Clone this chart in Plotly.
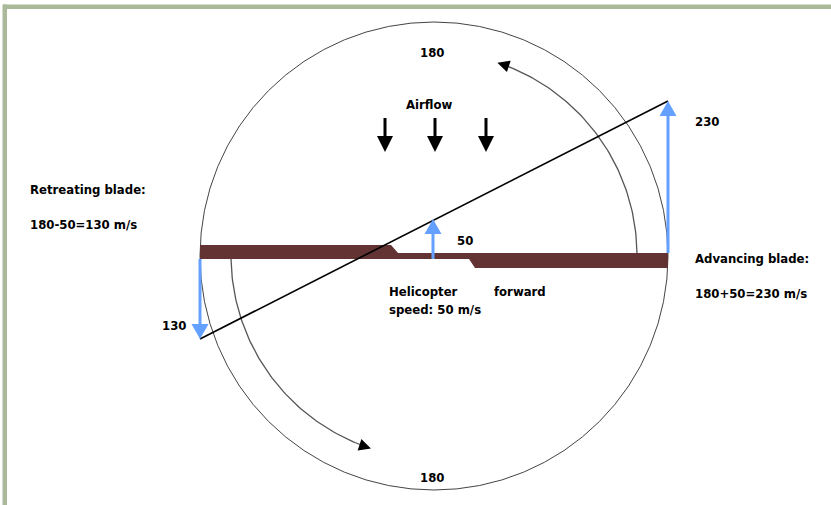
import numpy as np
import plotly.graph_objects as go

# --- speeds (m/s) ---
rotor_speed = 180
forward_speed = 50
advancing_speed = rotor_speed + forward_speed
retreating_speed = rotor_speed - forward_speed

W, H = 831, 505
CX, CY, R = 434, 255.5, 234
BLUE = '#64a0ff'
BLADE = '#633333'
FONT = 'DejaVu Sans Condensed, Liberation Sans Narrow, Liberation Sans, sans-serif'

fig = go.Figure()
shapes = []


def tri(tip, direction, length=14, half=8, color='black'):
    d = np.array(direction, dtype=float)
    d /= np.linalg.norm(d)
    n = np.array([-d[1], d[0]])
    tip = np.array(tip, dtype=float)
    base = tip - d * length
    p1, p2 = base + n * half, base - n * half
    return dict(type='path', line=dict(width=0), fillcolor=color,
                path=f'M{tip[0]},{tip[1]} L{p1[0]},{p1[1]} L{p2[0]},{p2[1]} Z')


def arrow(x0, y0, x1, y1, color, width=3, length=15, half=8.5):
    d = np.array([x1 - x0, y1 - y0], dtype=float)
    d /= np.linalg.norm(d)
    ex, ey = x1 - d[0] * (length - 2), y1 - d[1] * (length - 2)
    shapes.append(dict(type='line', x0=x0, y0=y0, x1=ex, y1=ey,
                       line=dict(color=color, width=width)))
    shapes.append(tri((x1, y1), d, length, half, color))


# frame
shapes.append(dict(type='rect', x0=3, x1=W + 5, y0=4.5, y1=9, fillcolor='#a9b99a', line=dict(width=0)))
shapes.append(dict(type='rect', x0=2.5, x1=7, y0=4.5, y1=H + 5, fillcolor='#a9b99a', line=dict(width=0)))

# rotor disc
shapes.append(dict(type='circle', x0=CX - R, x1=CX + R, y0=CY - R + 0.5, y1=CY + R + 0.5,
                   line=dict(color='#444444', width=1)))

# rotation arcs (inner circle r=203)
r_in = 203
for a0, a1 in [(0.7, 70.0), (181.0, 249.0)]:
    th = np.radians(np.linspace(a0, a1, 80))
    fig.add_trace(go.Scatter(x=CX + r_in * np.cos(th), y=CY - r_in * np.sin(th),
                             mode='lines', line=dict(color='#555555', width=1.3),
                             hoverinfo='skip', showlegend=False))
for a in [71.8, 251.9]:
    t = np.radians(a)
    tip = (CX + r_in * np.cos(t), CY - r_in * np.sin(t))
    shapes.append(tri(tip, (-np.sin(t), -np.cos(t)), 12, 6))

# blade
shapes.append(dict(type='path', fillcolor=BLADE, line=dict(width=0), layer='above',
                   path='M200,245 L391,245 L398,253 L668,253 L668,268 L475,268 L469,259 L200,259 Z'))

# relative wind line
shapes.append(dict(type='line', x0=200, y0=339, x1=668, y1=101,
                   line=dict(color='black', width=1.6)))

# velocity arrows
arrow(668, 253, 668, 101, BLUE)
arrow(200, 259, 200, 339, BLUE)
arrow(433, 259, 433, 219, BLUE)

# airflow arrows
for x in [385, 435, 486]:
    arrow(x, 118, x, 152, 'black', width=3, length=16, half=8)

fig.update_layout(shapes=shapes)

labels = [
    (432, 52, str(rotor_speed), 'center'),
    (432, 477, str(rotor_speed), 'center'),
    (429, 104, 'Airflow', 'center'),
    (693, 121, str(advancing_speed), 'left'),
    (188, 325, str(retreating_speed), 'right'),
    (455, 240, str(forward_speed), 'left'),
    (28, 189, 'Retreating blade:', 'left'),
    (28, 224, f'{rotor_speed}-{forward_speed}={retreating_speed} m/s', 'left'),
    (693, 258, 'Advancing blade:', 'left'),
    (693, 293, f'{rotor_speed}+{forward_speed}={advancing_speed} m/s', 'left'),
    (387, 291, 'Helicopter', 'left'),
    (492, 291, 'forward', 'left'),
    (387, 309, f'speed: {forward_speed} m/s', 'left'),
]
for x, y, txt, anc in labels:
    fig.add_annotation(x=x, y=y, text=f'<b>{txt}</b>', showarrow=False,
                       xanchor=anc, yanchor='middle',
                       font=dict(family=FONT, size=13, color='black'))

fig.update_layout(
    width=W, height=H,
    margin=dict(l=0, r=0, t=0, b=0),
    paper_bgcolor='white', plot_bgcolor='white',
    xaxis=dict(range=[0, W], visible=False, fixedrange=True),
    yaxis=dict(range=[H, 0], visible=False, fixedrange=True),
    showlegend=False,
)

fig.write_html('out.html', config={'displayModeBar': False},
               post_script="document.body.style.margin='0';")
